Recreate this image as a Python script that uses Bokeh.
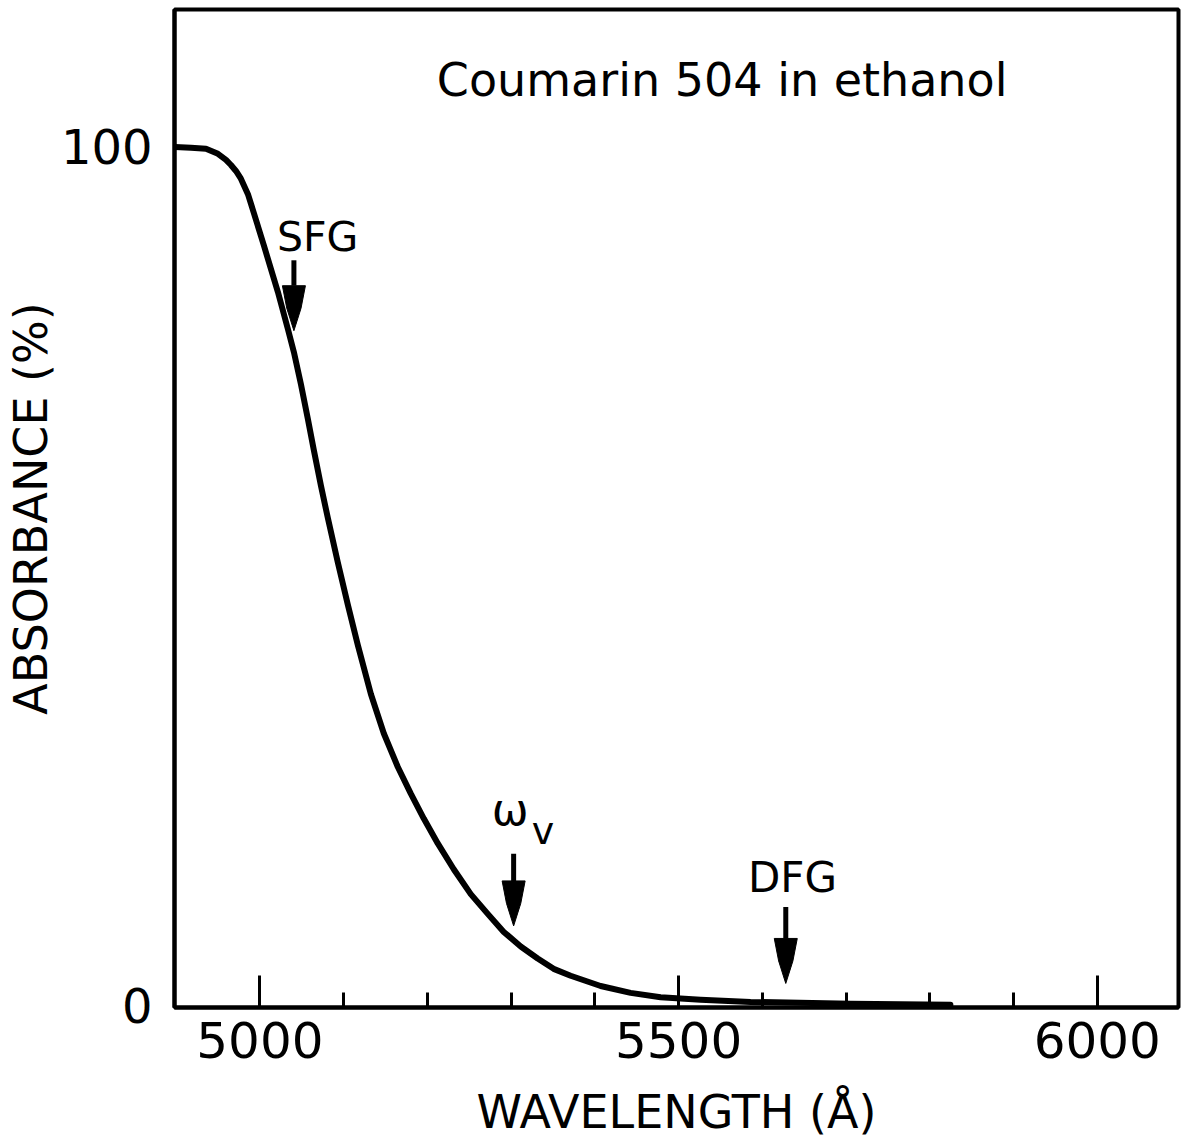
from bokeh.plotting import figure
from bokeh.models import FixedTicker, Label, Range1d, ColumnDataSource
from bokeh.embed import file_html
from bokeh.resources import INLINE

# ---- data ----
wavelength = [4898.6, 4917.7, 4935.6, 4949.9, 4959.5, 4965.4, 4971.4, 4977.3,
              4985.7, 4992.8, 5004.8, 5021.5, 5033.4, 5040.6, 5048.9, 5057.3,
              5064.4, 5072.8, 5081.1, 5093.1, 5105.0, 5116.9, 5132.5, 5148.0,
              5164.7, 5180.2, 5195.7, 5212.4, 5231.5, 5251.8, 5272.1, 5291.2,
              5311.5, 5331.7, 5350.8, 5371.1, 5406.9, 5442.7, 5478.5, 5526.3,
              5585.9, 5705.3, 5824.6]
absorbance = [100.0, 99.9, 99.8, 99.2, 98.5, 97.9, 97.2, 96.3,
              94.5, 92.3, 88.5, 83.1, 78.8, 76.1, 72.4, 68.3,
              64.7, 60.6, 56.8, 51.6, 46.7, 42.0, 36.3, 31.7,
              27.8, 24.7, 21.8, 18.9, 15.9, 13.0, 10.7, 8.6,
              6.9, 5.5, 4.3, 3.5, 2.3, 1.5, 1.0, 0.7,
              0.45, 0.25, 0.12]

x_major_ticks = [5000, 5500, 6000]
x_minor_ticks = [5100, 5200, 5300, 5400, 5600, 5700, 5800, 5900]
y_ticks = [0, 100]

# annotation arrows (wavelength, top of shaft, tip) in data units
arrow_names = ["SFG", "omega_v", "DFG"]
arrow_x = [5040.6, 5303.0, 5628.0]
arrow_top = [86.8, 17.7, 11.5]
arrow_tip = [78.6, 9.3, 2.6]

title_text = "Coumarin 504 in ethanol"
x_label = "WAVELENGTH (Å)"
y_label = "ABSORBANCE (%)"

FONT = "DejaVu Sans"

x_start, x_end = 4898, 6097
y_start, y_end = -0.2, 116.0

W, H = 1191, 1146
left, right, top, bottom = 174, 13, 9, 139

p = figure(width=W, height=H, output_backend="svg", toolbar_location=None,
           x_range=Range1d(x_start, x_end), y_range=Range1d(y_start, y_end),
           min_border_left=left, min_border_right=right,
           min_border_top=top, min_border_bottom=bottom)
p.background_fill_color = "white"
p.border_fill_color = "white"
p.grid.visible = False
p.outline_line_color = "black"
p.outline_line_width = 4

# x axis
xa = p.xaxis[0]
xa.ticker = FixedTicker(ticks=x_major_ticks, minor_ticks=x_minor_ticks)
xa.axis_line_width = 4
xa.major_tick_in = 32
xa.major_tick_out = 0
xa.minor_tick_in = 15
xa.minor_tick_out = 0
xa.major_tick_line_width = 3
xa.minor_tick_line_width = 3
xa.major_label_text_font = FONT
xa.major_label_text_font_size = "50px"
xa.major_label_text_color = "black"
xa.major_label_standoff = 14
xa.axis_label = x_label
xa.axis_label_text_font = FONT
xa.axis_label_text_font_size = "46px"
xa.axis_label_text_font_style = "normal"
xa.axis_label_text_color = "black"
xa.axis_label_standoff = 24

# y axis
ya = p.yaxis[0]
ya.ticker = FixedTicker(ticks=y_ticks)
ya.axis_line_width = 4
ya.major_tick_in = 0
ya.major_tick_out = 0
ya.minor_tick_in = 0
ya.minor_tick_out = 0
ya.major_label_text_font = FONT
ya.major_label_text_font_size = "48px"
ya.major_label_text_color = "black"
ya.major_label_standoff = 22
ya.axis_label = y_label
ya.axis_label_text_font = FONT
ya.axis_label_text_font_size = "46px"
ya.axis_label_text_font_style = "normal"
ya.axis_label_text_color = "black"
ya.axis_label_standoff = 0

# curve
src = ColumnDataSource(dict(x=wavelength, y=absorbance))
p.line("x", "y", source=src, line_color="black", line_width=6,
       line_join="round", line_cap="round")

# arrows: shaft + elongated head, head size in pixels converted to data units
frame_w = W - left - right
frame_h = H - top - bottom
px_per_x = frame_w / (x_end - x_start)
px_per_y = frame_h / (y_end - y_start)
head_len_px, head_half_w_px = 45, 11.5
head_len = head_len_px / px_per_y
head_hw = head_half_w_px / px_per_x

base = [t + head_len for t in arrow_tip]
p.segment(x0=arrow_x, y0=arrow_top, x1=arrow_x, y1=base,
          line_color="black", line_width=5)
xs = [[x - head_hw, x - 0.62 * head_hw, x, x + 0.62 * head_hw, x + head_hw]
      for x in arrow_x]
ys = [[b, b - 0.5 * head_len, t, b - 0.5 * head_len, b]
      for b, t in zip(base, arrow_tip)]
p.patches(xs, ys, fill_color="black", line_color="black", line_width=1,
          line_join="round")

# texts
def add_label(x, y, text, size):
    p.add_layout(Label(x=x, y=y, text=text, text_font=FONT,
                       text_font_size=size, text_color="black",
                       text_align="center", text_baseline="middle"))

add_label(5552, 107.8, title_text, "46px")
add_label(5069, 89.5, "SFG", "41px")
add_label(5636, 14.9, "DFG", "42px")
add_label(5299, 22.8, "ω", "44px")
add_label(5338, 20.4, "v", "38px")

open("out.html", "w").write(file_html(p, INLINE))
